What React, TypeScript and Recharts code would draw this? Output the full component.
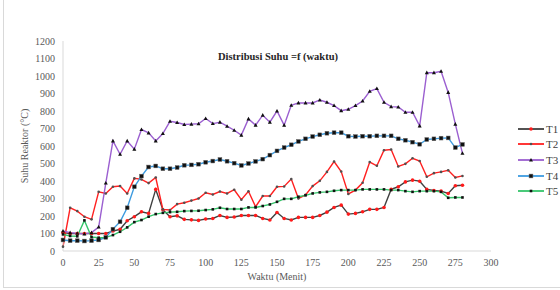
import { LineChart, Line, XAxis, YAxis } from "recharts";

// waktu (menit), setiap 5 menit
const minutes = Array.from({ length: 57 }, (_, i) => i * 5);

const t1 = [105, 100, 100, 100, 100, 100, 100, 114, 124, 173, 196, 224, 215, 352, 236, 196, 201, 181, 178, 175, 183, 186, 203, 192, 194, 203, 203, 203, 186, 177, 220, 186, 177, 192, 192, 192, 203, 222, 249, 262, 211, 215, 224, 238, 238, 249, 352, 367, 395, 405, 399, 352, 346, 342, 329, 373, 376];
const t2 = [25, 247, 228, 196, 181, 338, 329, 367, 371, 329, 415, 409, 388, 420, 238, 234, 268, 276, 288, 300, 333, 323, 340, 329, 350, 293, 341, 253, 314, 314, 367, 369, 411, 300, 321, 371, 401, 452, 511, 454, 326, 348, 390, 508, 487, 576, 580, 483, 498, 530, 514, 424, 445, 452, 461, 420, 429];
const t3 = [114, 105, 101, 97, 105, 137, 388, 629, 553, 629, 582, 694, 675, 629, 671, 741, 734, 723, 725, 727, 757, 728, 736, 713, 690, 662, 755, 719, 776, 736, 800, 719, 833, 846, 846, 846, 863, 850, 831, 802, 810, 831, 857, 913, 928, 850, 825, 823, 793, 793, 715, 1019, 1019, 1027, 906, 725, 558];
const t4 = [63, 59, 59, 57, 59, 63, 78, 125, 167, 247, 367, 428, 480, 486, 470, 470, 477, 490, 492, 496, 507, 514, 523, 513, 502, 489, 500, 512, 525, 548, 572, 591, 607, 626, 641, 654, 664, 673, 676, 676, 656, 654, 656, 656, 658, 658, 658, 641, 633, 622, 610, 637, 641, 645, 646, 591, 609];
const t5 = [95, 86, 84, 175, 80, 76, 78, 91, 110, 135, 165, 177, 196, 211, 218, 222, 224, 228, 229, 230, 234, 238, 247, 240, 240, 240, 249, 249, 257, 266, 281, 298, 298, 310, 318, 329, 335, 338, 344, 348, 348, 348, 352, 352, 352, 352, 348, 348, 342, 338, 342, 342, 342, 338, 304, 306, 306];

const xTicks = [0, 25, 50, 75, 100, 125, 150, 175, 200, 225, 250, 275, 300];
const yTicks = [0, 100, 200, 300, 400, 500, 600, 700, 800, 900, 1000, 1100, 1200];

const data = minutes.map((m, i) => ({
  m,
  T1: t1[i],
  T2: t2[i],
  T3: t3[i],
  T4: t4[i],
  T5: t5[i],
}));

const FONT = "'Liberation Serif', 'DejaVu Serif', serif";

const series = [
  { key: "T1", color: "#404040", mark: "#ff1a1a", shape: "circle" },
  { key: "T2", color: "#ff2020", mark: "#505050", shape: "dot" },
  { key: "T3", color: "#9b5fd0", mark: "#111", shape: "tri" },
  { key: "T4", color: "#3d9be0", mark: "#111", shape: "square" },
  { key: "T5", color: "#35c46a", mark: "#111", shape: "small" },
];

function Marker({ cx, cy, shape, fill }: any) {
  if (cx == null || cy == null) return null;
  if (shape === "circle") return <circle cx={cx} cy={cy} r={1.8} fill={fill} />;
  if (shape === "dot") return <circle cx={cx} cy={cy} r={1.3} fill={fill} />;
  if (shape === "tri")
    return <path d={`M${cx},${cy - 2.1} L${cx + 2},${cy + 1.5} L${cx - 2},${cy + 1.5} Z`} fill={fill} />;
  if (shape === "square")
    return <rect x={cx - 1.9} y={cy - 1.9} width={3.8} height={3.8} fill={fill} stroke="#666" strokeWidth={0.5} />;
  return <rect x={cx - 1.3} y={cy - 1.3} width={2.6} height={2.6} fill={fill} />;
}

export default function App() {
  return (
    <div style={{ position: "absolute", left: 0, top: 0, width: 560, height: 290, background: "#fff", overflow: "hidden" }}>
      <div style={{ position: "absolute", left: 3, top: -2, width: 556, height: 288, border: "1px solid #d9d9d9" }} />
      <LineChart width={560} height={290} data={data} margin={{ top: 41, right: 69, bottom: 19, left: 18 }}>
        <XAxis
          dataKey="m"
          type="number"
          domain={[0, 300]}
          ticks={xTicks}
          height={20}
          tickLine={false}
          axisLine={{ stroke: "#d9d9d9" }}
          tick={{ fontSize: 10, fill: "#595959", fontFamily: FONT }}
        />
        <YAxis
          type="number"
          domain={[0, 1200]}
          ticks={yTicks}
          width={45}
          tickLine={false}
          axisLine={{ stroke: "#d9d9d9" }}
          tick={{ fontSize: 10, fill: "#595959", fontFamily: FONT }}
        />
        {series.map((s) => (
          <Line
            key={s.key}
            dataKey={s.key}
            type="linear"
            stroke={s.color}
            strokeWidth={1.4}
            isAnimationActive={false}
            dot={(p: any) => <Marker key={`${s.key}-${p.index}`} cx={p.cx} cy={p.cy} shape={s.shape} fill={s.mark} />}
            activeDot={false}
          />
        ))}
      </LineChart>

      <div style={{ position: "absolute", left: 0, width: 556, top: 51, textAlign: "center", fontFamily: FONT, fontWeight: "bold", fontSize: 10.5, color: "#262626" }}>
        Distribusi Suhu =f (waktu)
      </div>
      <div style={{ position: "absolute", left: 63, width: 428, top: 271, textAlign: "center", fontFamily: FONT, fontSize: 10, color: "#595959" }}>
        Waktu (Menit)
      </div>
      <div
        style={{
          position: "absolute",
          left: 24,
          top: 146,
          transform: "translate(-50%, -50%) rotate(-90deg)",
          whiteSpace: "nowrap",
          fontFamily: FONT,
          fontSize: 10,
          color: "#595959",
        }}
      >
        Suhu Reaktor (°C)
      </div>

      <div style={{ position: "absolute", left: 517, top: 121 }}>
        {series.map((s) => (
          <div key={s.key} style={{ display: "flex", alignItems: "center", height: 15.6 }}>
            <svg width={28} height={10}>
              <line x1={1} y1={5} x2={27} y2={5} stroke={s.color} strokeWidth={1.8} />
              <Marker cx={14} cy={5} shape={s.shape} fill={s.mark} />
            </svg>
            <span style={{ fontFamily: FONT, fontSize: 11, color: "#404040", marginLeft: 1 }}>{s.key}</span>
          </div>
        ))}
      </div>
    </div>
  );
}
